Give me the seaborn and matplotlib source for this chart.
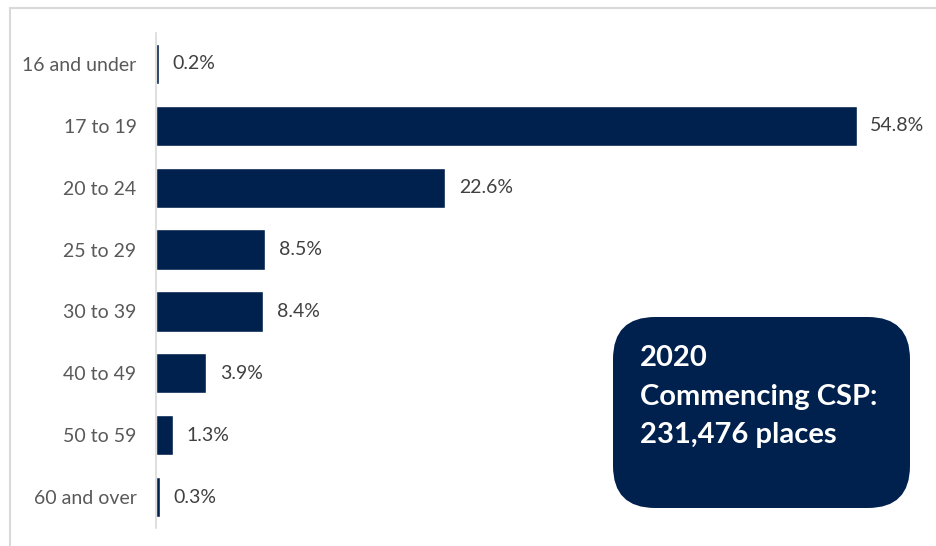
import pandas as pd
import matplotlib.pyplot as plt
import seaborn as sns
from matplotlib.patches import FancyBboxPatch
from matplotlib.lines import Line2D

# -----------------------------
# DATA
# -----------------------------
age_groups = ["16 and under", "17 to 19", "20 to 24", "25 to 29",
              "30 to 39", "40 to 49", "50 to 59", "60 and over"]
share_pct = [0.2, 54.8, 22.6, 8.5, 8.4, 3.9, 1.3, 0.3]
box_lines = ["2020", "Commencing CSP:", "231,476 places"]

df = pd.DataFrame({"Age": age_groups, "Share": share_pct})

NAVY = "#00214D"
GREY_TXT = "#595959"

# -----------------------------
# PLOT
# -----------------------------
sns.set_style("white")
plt.rcParams["font.family"] = ["Lato", "DejaVu Sans"]

fig = plt.figure(figsize=(9.36, 5.46), dpi=100)
ax = fig.add_axes([156 / 936, 18 / 546, (923 - 156) / 936, (513 - 18) / 546])

sns.barplot(data=df, y="Age", x="Share", orient="h", color=NAVY,
            width=0.65, saturation=1, ax=ax)

ax.set_xlim(0, 60)
ax.set_ylim(len(age_groups) - 0.5, -0.5)
ax.set_xlabel("")
ax.set_ylabel("")
ax.set_xticks([])
for side in ["top", "right", "bottom"]:
    ax.spines[side].set_visible(False)
ax.spines["left"].set_color("#D9D9D9")
ax.spines["left"].set_linewidth(1.2)
ax.tick_params(axis="y", length=0, pad=14, labelsize=14, labelcolor=GREY_TXT)

# value labels
for i, v in enumerate(share_pct):
    ax.annotate(f"{v}%", (v, i), xytext=(10, 0), textcoords="offset points",
                ha="left", va="center", fontsize=14, color="#404040")

# outer frame lines (left and top)
fig.add_artist(Line2D([10 / 936, 10 / 936], [0, 1 - 8 / 546],
                      transform=fig.transFigure, color="#D9D9D9", lw=1.5))
fig.add_artist(Line2D([10 / 936, 1], [1 - 8 / 546, 1 - 8 / 546],
                      transform=fig.transFigure, color="#D9D9D9", lw=1.5))

# callout box
bx0, by0, bx1, by1 = 613 / 936, 1 - 508 / 546, 910 / 936, 1 - 317 / 546
box = FancyBboxPatch((bx0, by0), bx1 - bx0, by1 - by0,
                     boxstyle="round,pad=0,rounding_size=0.045",
                     transform=fig.transFigure, facecolor=NAVY,
                     edgecolor="none", mutation_aspect=936 / 546)
fig.add_artist(box)
fig.text(640 / 936, 1 - 345 / 546, "\n".join(box_lines),
         ha="left", va="top", color="white", fontsize=21,
         fontweight="bold", linespacing=1.6)

plt.savefig("out.png", dpi=100)
